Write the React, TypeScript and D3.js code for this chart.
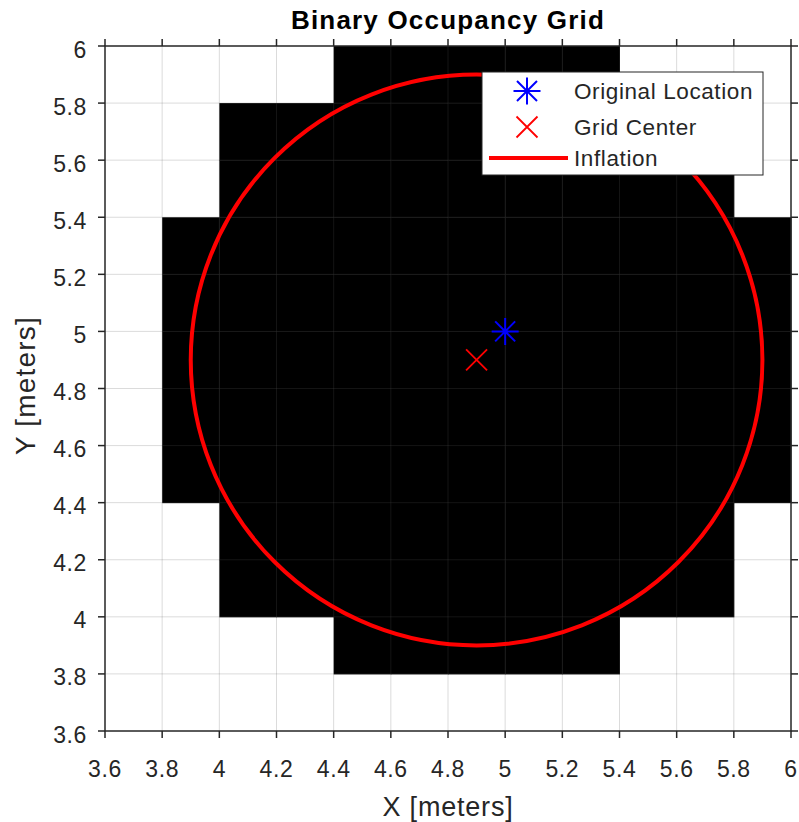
import React from "react";
import * as d3 from "d3";

// ---- data ----
const xTicks = [3.6, 3.8, 4.0, 4.2, 4.4, 4.6, 4.8, 5.0, 5.2, 5.4, 5.6, 5.8, 6.0];
const yTicks = [3.6, 3.8, 4.0, 4.2, 4.4, 4.6, 4.8, 5.0, 5.2, 5.4, 5.6, 5.8, 6.0];
const cellSize = 0.2;
const gridOrigin = [3.6, 3.6];
// rows listed from top (y = 6.0) down; '1' = occupied
const occupancyRows = [
  "000011111000",
  "001111111110",
  "001111111110",
  "011111111111",
  "011111111111",
  "011111111111",
  "011111111111",
  "011111111111",
  "001111111110",
  "001111111110",
  "000011111000",
  "000000000000",
];
const originalLocation = [5.0, 5.0];
const gridCenter = [4.9, 4.9];
const inflationRadius = 1.0;
const legendLabels = ["Original Location", "Grid Center", "Inflation"];

const W = 799;
const H = 822;
const left = 105, right = 791, top = 46, bottom = 731;
const axisColor = "#262626";
const font = "'Liberation Sans', Arial, Helvetica, sans-serif";

function Asterisk({ cx, cy, color }: { cx: number; cy: number; color: string }) {
  const a = 13.5, d = 10;
  const p = `M${cx - a},${cy}L${cx + a},${cy}M${cx},${cy - a}L${cx},${cy + a}M${cx - d},${cy - d}L${cx + d},${cy + d}M${cx - d},${cy + d}L${cx + d},${cy - d}`;
  return <path d={p} stroke={color} strokeWidth={2} fill="none" />;
}
function XMark({ cx, cy, color }: { cx: number; cy: number; color: string }) {
  const d = 10.5;
  const p = `M${cx - d},${cy - d}L${cx + d},${cy + d}M${cx - d},${cy + d}L${cx + d},${cy - d}`;
  return <path d={p} stroke={color} strokeWidth={1.8} fill="none" />;
}

export default function App() {
  const x = d3.scaleLinear().domain([3.6, 6]).range([left, right]);
  const y = d3.scaleLinear().domain([3.6, 6]).range([bottom, top]);
  const fmt = (v: number) => d3.format("~g")(+v.toFixed(2));

  const cells: JSX.Element[] = [];
  occupancyRows.forEach((row, ri) => {
    const yTop = gridOrigin[1] + (occupancyRows.length - ri) * cellSize;
    row.split("").forEach((c, ci) => {
      if (c === "1") {
        const x0 = gridOrigin[0] + ci * cellSize;
        cells.push(
          <rect key={`${ri}-${ci}`} x={x(x0)} y={y(yTop)}
            width={x(x0 + cellSize) - x(x0) + 0.5} height={y(yTop - cellSize) - y(yTop) + 0.5} fill="#000" />
        );
      }
    });
  });

  const tickLen = 7;
  const lx = 527, ltx = 574;
  const ly = [91, 127, 158];

  return (
    <svg width={W} height={H} style={{ position: "absolute", left: 0, top: 0, background: "#fff" }}
      fontFamily={font}>
      <rect x={0} y={0} width={W} height={H} fill="#fff" />
      {cells}
      {/* grid */}
      <g stroke="rgb(90,90,90)" strokeOpacity={0.22} strokeWidth={1}>
        {xTicks.slice(1, -1).map((t) => (
          <line key={"gx" + t} x1={x(t)} x2={x(t)} y1={top} y2={bottom} />
        ))}
        {yTicks.slice(1, -1).map((t) => (
          <line key={"gy" + t} y1={y(t)} y2={y(t)} x1={left} x2={right} />
        ))}
      </g>
      {/* inflation circle */}
      <ellipse cx={x(gridCenter[0])} cy={y(gridCenter[1])}
        rx={x(gridCenter[0] + inflationRadius) - x(gridCenter[0])}
        ry={y(gridCenter[1]) - y(gridCenter[1] + inflationRadius)}
        fill="none" stroke="#ff0000" strokeWidth={4} />
      <Asterisk cx={x(originalLocation[0])} cy={y(originalLocation[1])} color="#0000ff" />
      <XMark cx={x(gridCenter[0])} cy={y(gridCenter[1])} color="#ff0000" />
      {/* axes box */}
      <rect x={left} y={top} width={right - left} height={bottom - top} fill="none" stroke={axisColor} strokeWidth={1.5} />
      <g stroke={axisColor} strokeWidth={1.5}>
        {xTicks.map((t) => (
          <g key={"tx" + t}>
            <line x1={x(t)} x2={x(t)} y1={bottom} y2={bottom + tickLen} />
            <line x1={x(t)} x2={x(t)} y1={top} y2={top - tickLen} />
          </g>
        ))}
        {yTicks.map((t) => (
          <g key={"ty" + t}>
            <line y1={y(t)} y2={y(t)} x1={left} x2={left - tickLen} />
            <line y1={y(t)} y2={y(t)} x1={right} x2={right + tickLen} />
          </g>
        ))}
      </g>
      <g fill={axisColor} fontSize={23} letterSpacing={0.6}>
        {xTicks.map((t) => (
          <text key={"lx" + t} x={x(t)} y={777} textAnchor="middle">{fmt(t)}</text>
        ))}
        {yTicks.map((t) => (
          <text key={"ly" + t} x={87} y={y(t) + 11.5} textAnchor="end">{fmt(t)}</text>
        ))}
      </g>
      <text x={(left + right) / 2} y={816} textAnchor="middle" fontSize={27} fill={axisColor} letterSpacing={0.8}>X [meters]</text>
      <text transform={`translate(35,${(top + bottom) / 2 - 3}) rotate(-90)`} textAnchor="middle" fontSize={28} fill={axisColor} letterSpacing={1.2}>Y [meters]</text>
      <text x={(left + right) / 2} y={29} textAnchor="middle" fontSize={26} fontWeight="bold" fill="#000" letterSpacing={1.2}>Binary Occupancy Grid</text>
      {/* legend */}
      <rect x={482} y={72} width={281} height={103} fill="#fff" stroke={axisColor} strokeWidth={1} />
      <Asterisk cx={lx} cy={ly[0]} color="#0000ff" />
      <XMark cx={lx} cy={ly[1]} color="#ff0000" />
      <line x1={489} x2={568} y1={ly[2]} y2={ly[2]} stroke="#ff0000" strokeWidth={4} />
      <g fill={axisColor} fontSize={22.5} letterSpacing={0.6}>
        {legendLabels.map((l, i) => (
          <text key={l} x={ltx} y={ly[i] + 8}>{l}</text>
        ))}
      </g>
    </svg>
  );
}
